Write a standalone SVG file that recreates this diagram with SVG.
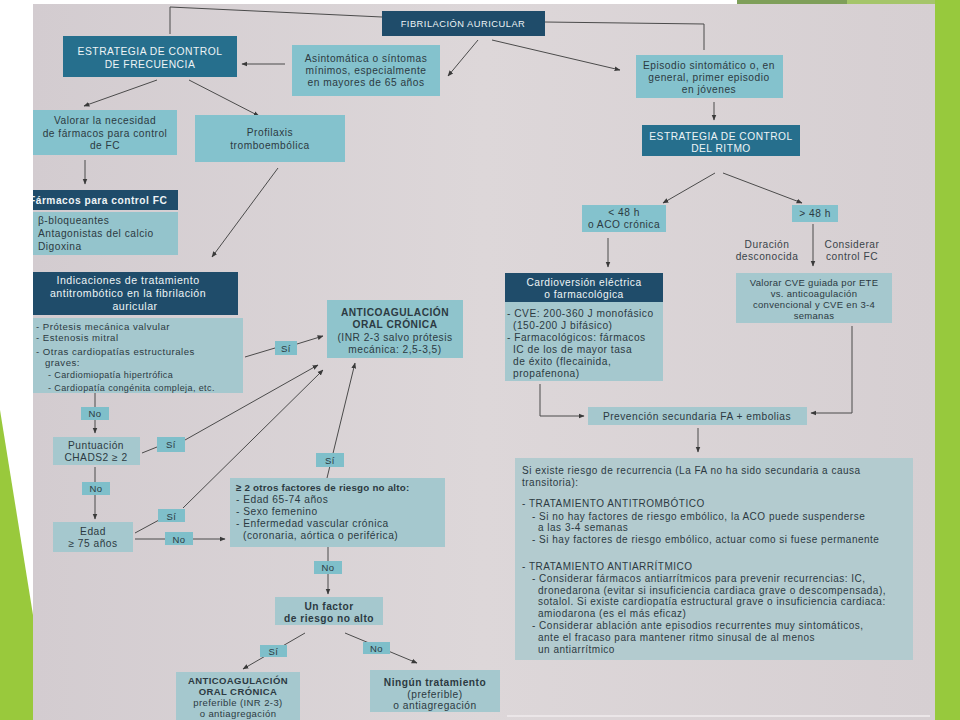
<svg xmlns="http://www.w3.org/2000/svg" width="960" height="720" viewBox="0 0 960 720">
<defs>
<linearGradient id="pg" x1="0" y1="0" x2="1" y2="0">
<stop offset="0" stop-color="#d3ccd0"/>
<stop offset="0.5" stop-color="#ddd7d9"/>
<stop offset="1" stop-color="#d6cfd2"/>
</linearGradient>
<clipPath id="paper"><rect x="33" y="4" width="902" height="716"/></clipPath>
<marker id="ah" viewBox="0 0 10 10" refX="9" refY="5" markerWidth="6" markerHeight="6" orient="auto"><path d="M0,1 L10,5 L0,9 z" fill="#3a3a3a"/></marker>
<style>
.dk{fill:#1f4c6a}
.md{fill:#266f8d}
.lt{fill:#84c2cd}
.pl{fill:#a5c8ce}
.lb{fill:#7fbfca}
text{font-family:"Liberation Sans",Arial,sans-serif;font-size:10.2px;letter-spacing:0.5px;fill:#2c3a42}
.w{fill:#eef4f6}
.b{font-weight:bold}
.c{text-anchor:middle}
.s{font-size:9px;letter-spacing:0.4px}
.g{font-size:10px;letter-spacing:0.5px}
.l{font-size:9.6px}
.k{font-size:9.5px;letter-spacing:0.3px}
.m{font-size:9.5px;letter-spacing:0.4px}
.ln{stroke:#4b4b4b;stroke-width:1;fill:none}
.ar{marker-end:url(#ah)}
</style>
</defs>
<rect width="960" height="720" fill="#ffffff"/>
<polygon points="0,410 33,615 33,720 0,720" fill="#99c93c"/>
<rect x="737" y="0" width="110" height="4" fill="#7f9f5a"/>
<rect x="847" y="0" width="88" height="4" fill="#a5c56a"/>
<rect x="935" y="0" width="25" height="720" fill="#97c93d"/>
<rect x="33" y="4" width="902" height="716" fill="url(#pg)"/>
<line x1="507" y1="716" x2="930" y2="716" stroke="#ebe6e8" stroke-width="2"/>
<g clip-path="url(#paper)">
<g id="connectors">
<polyline class="ln" points="382,17 170,7 170,34"/>
<polyline class="ln" points="545,22 704,24 704,50"/>
<line class="ln ar" x1="478" y1="40" x2="448" y2="76"/>
<line class="ln ar" x1="492" y1="40" x2="620" y2="70"/>
<line class="ln ar" x1="285" y1="64" x2="242" y2="64"/>
<line class="ln ar" x1="157" y1="80" x2="84" y2="106"/>
<line class="ln ar" x1="189" y1="80" x2="259" y2="116"/>
<line class="ln ar" x1="85" y1="160" x2="85" y2="184"/>
<line class="ln ar" x1="278" y1="168" x2="212" y2="257"/>
<line class="ln" x1="245" y1="357" x2="275" y2="348"/>
<line class="ln ar" x1="297" y1="344" x2="323" y2="336"/>
<line class="ln ar" x1="95" y1="393" x2="95" y2="433"/>
<line class="ln" x1="142" y1="453" x2="157" y2="447"/>
<line class="ln ar" x1="185" y1="440" x2="318" y2="365"/>
<line class="ln ar" x1="95" y1="467" x2="95" y2="519"/>
<line class="ln" x1="135" y1="533" x2="159" y2="520"/>
<line class="ln ar" x1="183" y1="508" x2="323" y2="370"/>
<line class="ln ar" x1="135" y1="539" x2="225" y2="539"/>
<line class="ln ar" x1="327" y1="478" x2="355" y2="363"/>
<line class="ln ar" x1="328" y1="547" x2="328" y2="594"/>
<line class="ln ar" x1="305" y1="633" x2="243" y2="669"/>
<line class="ln ar" x1="345" y1="633" x2="417" y2="663"/>
<line class="ln ar" x1="714" y1="102" x2="714" y2="120"/>
<line class="ln ar" x1="715" y1="173" x2="663" y2="203"/>
<line class="ln ar" x1="723" y1="173" x2="802" y2="203"/>
<line class="ln ar" x1="608" y1="238" x2="608" y2="267"/>
<line class="ln ar" x1="813" y1="224" x2="813" y2="266"/>
<polyline class="ln ar" points="540,384 540,416 584,416"/>
<polyline class="ln ar" points="852,326 852,413 811,413"/>
<line class="ln ar" x1="698" y1="428" x2="698" y2="452"/>
</g>
<g id="n-fa"><rect class="dk" x="382" y="11" width="163" height="25"/><text class="c w" x="463" y="27" style="font-size:9.3px">FIBRILACIÓN AURICULAR</text></g>
<g id="n-ecf"><rect class="md" x="63" y="36" width="174" height="41"/><text class="c w" x="150" y="55" style="font-size:10.3px">ESTRATEGIA DE CONTROL</text><text class="c w" x="150" y="68" style="font-size:10.3px">DE FRECUENCIA</text></g>
<g id="n-asin"><rect class="lt" x="292" y="45" width="148" height="51"/><text class="c" x="366" y="61.5">Asintomática o síntomas</text><text class="c" x="366" y="73.5">mínimos, especialmente</text><text class="c" x="366" y="85.5">en mayores de 65 años</text></g>
<g id="n-epi"><rect class="lt" x="636" y="55" width="147" height="43"/><text class="c" x="709" y="69">Episodio sintomático o, en</text><text class="c" x="709" y="81">general, primer episodio</text><text class="c" x="709" y="93">en jóvenes</text></g>
<g id="n-ritmo"><rect class="md" x="642" y="125" width="158" height="31"/><text class="c w" x="721" y="140">ESTRATEGIA DE CONTROL</text><text class="c w" x="721" y="152">DEL RITMO</text></g>
<g id="n-lt48"><rect class="lt" x="582" y="205" width="84" height="27"/><text class="c" x="624" y="216">&lt; 48 h</text><text class="c" x="624" y="228">o ACO crónica</text></g>
<g id="n-gt48"><rect class="lt" x="792" y="205" width="46" height="17"/><text class="c" x="815" y="217">&gt; 48 h</text></g>
<g id="n-dur"><text class="c" x="767" y="248" style="fill:#3a444a">Duración</text><text class="c" x="767" y="260" style="fill:#3a444a">desconocida</text></g>
<g id="n-cfc"><text class="c" x="852" y="248" style="fill:#3a444a">Considerar</text><text class="c" x="852" y="260" style="fill:#3a444a">control FC</text></g>
<g id="n-cv"><rect class="dk" x="505" y="273" width="158" height="29"/><text class="c w" x="584" y="286">Cardioversión eléctrica</text><text class="c w" x="584" y="298">o farmacológica</text>
<rect class="pl" x="505" y="302" width="158" height="79"/>
<text x="507" y="316.5">- CVE: 200-360 J monofásico</text><text x="513" y="328.5">(150-200 J bifásico)</text><text x="507" y="341">- Farmacológicos: fármacos</text><text x="513" y="353">IC de los de mayor tasa</text><text x="513" y="365">de éxito (flecainida,</text><text x="513" y="377">propafenona)</text></g>
<g id="n-vcve"><rect class="pl" x="736" y="273" width="156" height="50"/><text class="c k" x="814" y="285.5">Valorar CVE guiada por ETE</text><text class="c k" x="814" y="296.5">vs. anticoagulación</text><text class="c k" x="814" y="307.5">convencional y CVE en 3-4</text><text class="c k" x="814" y="318.5">semanas</text></g>
<g id="n-prev"><rect class="pl" x="588" y="407" width="219" height="18"/><text class="c" x="697" y="419.5">Prevención secundaria FA + embolias</text></g>
<g id="n-big"><rect x="515" y="458" width="398" height="202" fill="#b3cbcf"/>
<text class="g" x="522" y="473.5">Si existe riesgo de recurrencia (La FA no ha sido secundaria a causa</text>
<text class="g" x="522" y="485.5">transitoria):</text>
<text class="g" x="522" y="506.5">- TRATAMIENTO ANTITROMBÓTICO</text>
<text class="g" x="532" y="519.5">- Si no hay factores de riesgo embólico, la ACO puede suspenderse</text>
<text class="g" x="538" y="531">a las 3-4 semanas</text>
<text class="g" x="532" y="543">- Si hay factores de riesgo embólico, actuar como si fuese permanente</text>
<text class="g" x="522" y="569.5">- TRATAMIENTO ANTIARRÍTMICO</text>
<text class="g" x="532" y="582">- Considerar fármacos antiarrítmicos para prevenir recurrencias: IC,</text>
<text class="g" x="538" y="593.5">dronedarona (evitar si insuficiencia cardiaca grave o descompensada),</text>
<text class="g" x="538" y="605">sotalol. Si existe cardiopatía estructural grave o insuficiencia cardiaca:</text>
<text class="g" x="538" y="616.5">amiodarona (es el más eficaz)</text>
<text class="g" x="532" y="628.5">- Considerar ablación ante episodios recurrentes muy sintomáticos,</text>
<text class="g" x="538" y="640.5">ante el fracaso para mantener ritmo sinusal de al menos</text>
<text class="g" x="538" y="652.5">un antiarrítmico</text></g>
<g id="n-val"><rect class="lt" x="22" y="110" width="155" height="45"/><text class="c" x="105" y="123.5">Valorar la necesidad</text><text class="c" x="105" y="136.5">de fármacos para control</text><text class="c" x="105" y="148.5">de FC</text></g>
<g id="n-far"><rect class="dk" x="22" y="190" width="156" height="20"/><text class="w b" x="29" y="203.5">Fármacos para control FC</text>
<rect x="22" y="212" width="156" height="43" fill="#94c4cc"/><text x="38" y="223.5">β-bloqueantes</text><text x="38" y="236.5">Antagonistas del calcio</text><text x="38" y="250">Digoxina</text></g>
<g id="n-pro"><rect class="lt" x="195" y="115" width="150" height="47"/><text class="c" x="270" y="135.5">Profilaxis</text><text class="c" x="270" y="148.5">tromboembólica</text></g>
<g id="n-ind"><rect class="dk" x="22" y="272" width="216" height="43"/><text class="c w" x="128" y="284" style="font-size:10.6px">Indicaciones de tratamiento</text><text class="c w" x="128" y="297" style="font-size:10.6px">antitrombótico en la fibrilación</text><text class="c w" x="135" y="309.5" style="font-size:10.6px">auricular</text>
<rect class="pl" x="22" y="318" width="221" height="75"/>
<text class="l" x="36" y="329.5">- Prótesis mecánica valvular</text><text class="l" x="36" y="341">- Estenosis mitral</text><text class="l" x="36" y="354.5">- Otras cardiopatías estructurales</text><text class="l" x="45" y="366">graves:</text><text class="s" x="48" y="378">- Cardiomiopatía hipertrófica</text><text class="s" x="48" y="391">- Cardiopatía congénita compleja, etc.</text></g>
<g id="n-aco"><rect x="327" y="300" width="136" height="58" fill="#8fc4cc"/><text class="c b" x="395" y="315.5">ANTICOAGULACIÓN</text><text class="c b" x="395" y="327.5">ORAL CRÓNICA</text><text class="c" x="395" y="340.5">(INR 2-3 salvo prótesis</text><text class="c" x="395" y="352.5">mecánica: 2,5-3,5)</text></g>
<g id="n-chads"><rect class="pl" x="53" y="437" width="87" height="28"/><text class="c" x="96" y="448.5">Puntuación</text><text class="c" x="96" y="460.5">CHADS2 ≥ 2</text></g>
<g id="n-edad"><rect class="pl" x="53" y="522" width="80" height="30"/><text class="c" x="93" y="534.5">Edad</text><text class="c" x="93" y="546.5">≥ 75 años</text></g>
<g id="n-ge2"><rect class="pl" x="230" y="478" width="215" height="69"/><text class="b" x="236" y="490.5" style="font-size:9.8px;letter-spacing:0.2px">≥ 2 otros factores de riesgo no alto:</text><text x="236" y="502.5">- Edad 65-74 años</text><text x="236" y="514.5">- Sexo femenino</text><text x="236" y="526.5">- Enfermedad vascular crónica</text><text x="243" y="538.5">(coronaria, aórtica o periférica)</text></g>
<g id="n-unf"><rect class="pl" x="275" y="597" width="108" height="28"/><text class="c b" x="329" y="609.5">Un factor</text><text class="c b" x="329" y="621.5">de riesgo no alto</text></g>
<g id="n-aco2"><rect class="pl" x="176" y="672" width="124" height="56"/><text class="c b m" x="238" y="683.5">ANTICOAGULACIÓN</text><text class="c b m" x="238" y="694.5">ORAL CRÓNICA</text><text class="c m" x="238" y="705.5">preferible (INR 2-3)</text><text class="c m" x="238" y="716.5">o antiagregación</text></g>
<g id="n-nin"><rect class="pl" x="370" y="670" width="130" height="42"/><text class="c b" x="435" y="685.5">Ningún tratamiento</text><text class="c" x="435" y="697.5">(preferible)</text><text class="c" x="435" y="709">o antiagregación</text></g>
<g id="labels">
<g id="l1"><rect class="lb" x="275" y="341" width="22" height="14"/><text class="c" x="286" y="351.5" style="font-size:9.5px">Sí</text></g>
<g id="l2"><rect class="lb" x="81" y="407" width="28" height="13"/><text class="c" x="95" y="417" style="font-size:9.5px">No</text></g>
<g id="l3"><rect class="lb" x="157" y="437" width="28" height="15"/><text class="c" x="171" y="448" style="font-size:9.5px">Sí</text></g>
<g id="l4"><rect class="lb" x="82" y="482" width="28" height="13"/><text class="c" x="96" y="492" style="font-size:9.5px">No</text></g>
<g id="l5"><rect class="lb" x="158" y="509" width="27" height="13"/><text class="c" x="171.5" y="519.5" style="font-size:9.5px">Sí</text></g>
<g id="l6"><rect class="lb" x="165" y="532" width="28" height="13"/><text class="c" x="179" y="542.5" style="font-size:9.5px">No</text></g>
<g id="l7"><rect class="lb" x="316" y="453" width="28" height="14"/><text class="c" x="330" y="464" style="font-size:9.5px">Sí</text></g>
<g id="l8"><rect class="lb" x="314" y="561" width="28" height="13"/><text class="c" x="328" y="571" style="font-size:9.5px">No</text></g>
<g id="l9"><rect class="lb" x="260" y="645" width="27" height="12"/><text class="c" x="273.5" y="654.5" style="font-size:9.5px">Sí</text></g>
<g id="l10"><rect class="lb" x="363" y="642" width="27" height="12"/><text class="c" x="376.5" y="651.5" style="font-size:9.5px">No</text></g>
</g>
</g>
</svg>
